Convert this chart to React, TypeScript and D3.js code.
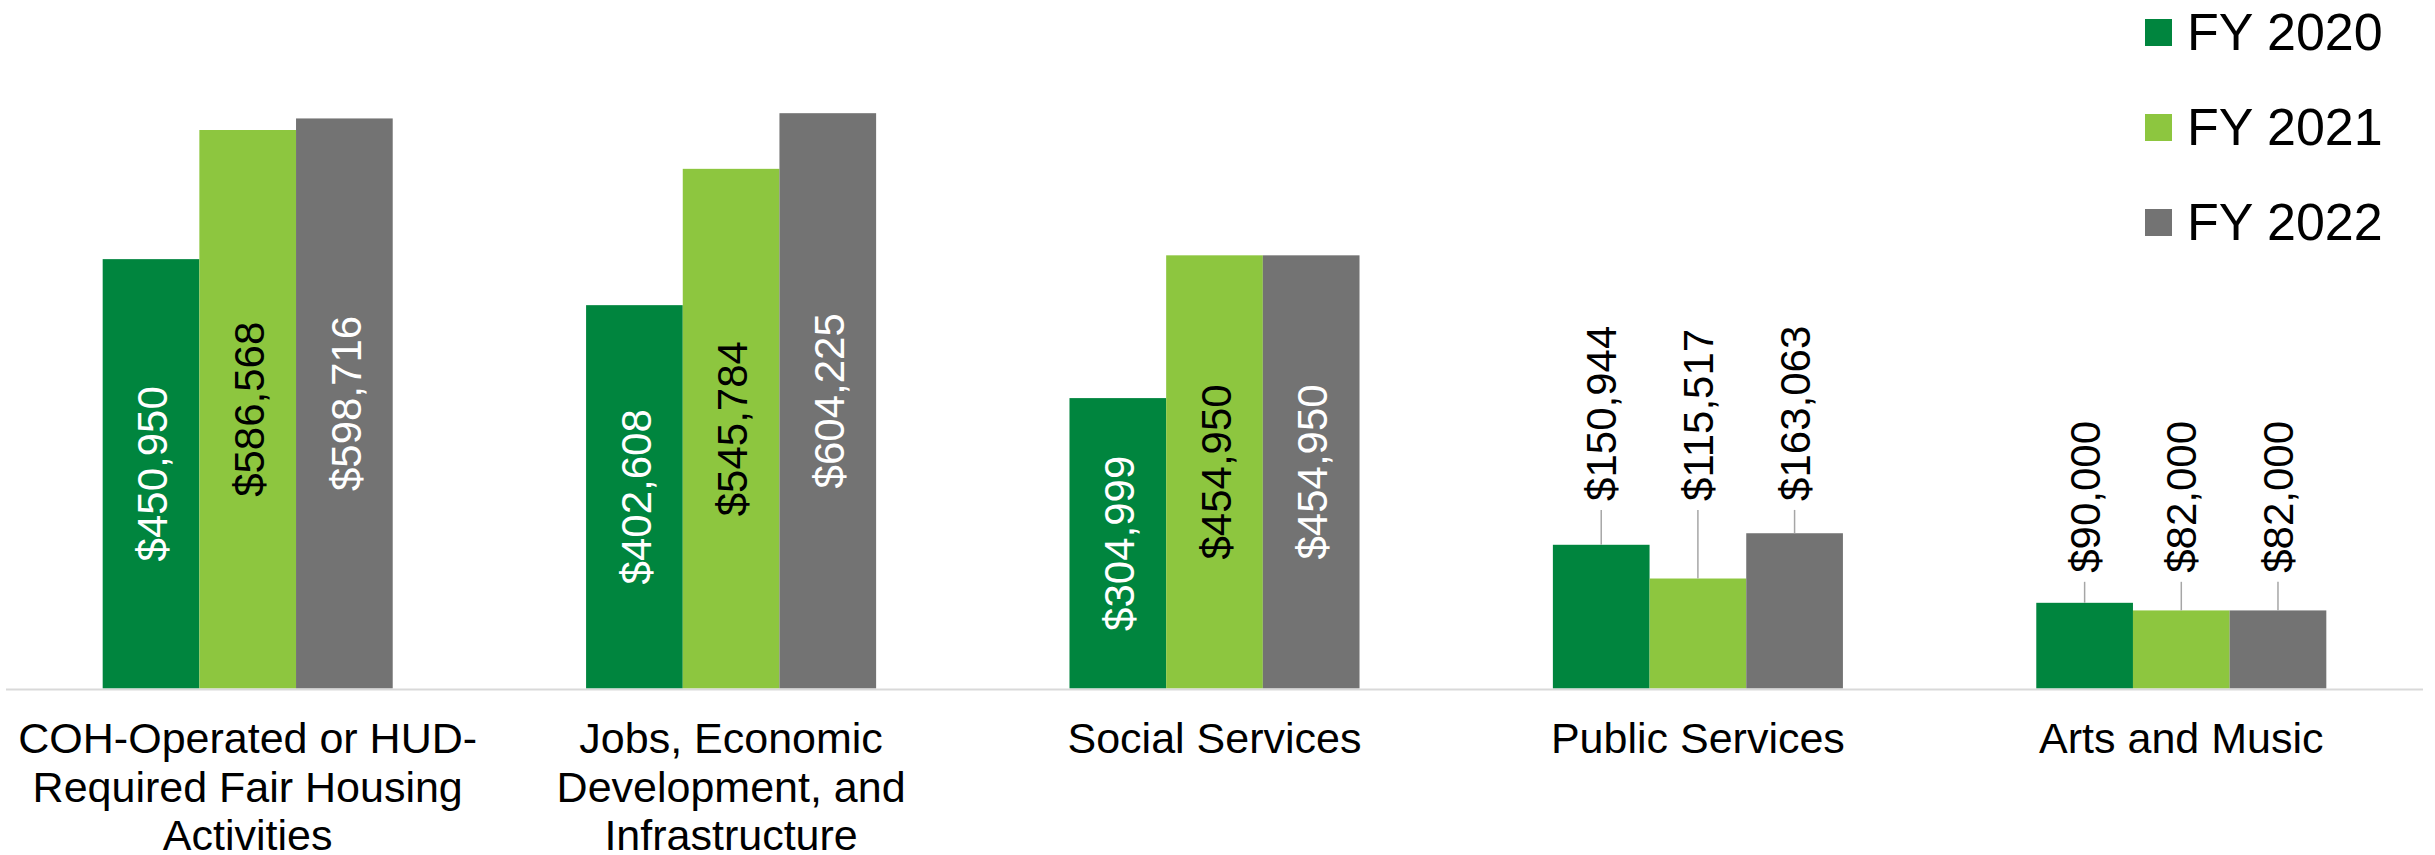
import { useEffect, useRef } from 'react';
import * as d3 from 'd3';

const categoryLines = [
  ['COH-Operated or HUD-', 'Required Fair Housing', 'Activities'],
  ['Jobs, Economic', 'Development, and', 'Infrastructure'],
  ['Social Services'],
  ['Public Services'],
  ['Arts and Music'],
];
const categories = categoryLines.map(l => l.join(' '));

const seriesNames = ['FY 2020', 'FY 2021', 'FY 2022'];
const fy2020 = [450950, 402608, 304999, 150944, 90000];
const fy2021 = [586568, 545784, 454950, 115517, 82000];
const fy2022 = [598716, 604225, 454950, 163063, 82000];

// outside labels are dragged up to this value (Excel custom label position), null = centred in bar
const labelAnchors: (number | null)[] = [null, null, null, 197000, 121500];

const colors = ['#00853e', '#8dc63f', '#737373'];
const insideTextColors = ['#ffffff', '#000000', '#ffffff'];
const FONT = '"Liberation Sans", Arial, sans-serif';

export default function App() {
  const svgRef = useRef<SVGSVGElement>(null);

  useEffect(() => {
    document.body.style.margin = '0';
    const svg = d3.select(svgRef.current);
    svg.selectAll('*').remove();

    const W = 2435, H = 855;
    svg.attr('width', W).attr('height', H).attr('viewBox', `0 0 ${W} ${H}`);

    const values = [fy2020, fy2021, fy2022];

    const x0 = d3.scaleBand<string>().domain(categories).range([6, 2423]).paddingInner(0.4).paddingOuter(0.2);
    const x1 = d3.scaleBand<string>().domain(seriesNames).range([0, x0.bandwidth()]);
    const y = d3.scaleLinear().domain([0, 700000]).range([688.5, 22]);

    const fmt = (v: number) => '$' + d3.format(',')(v);
    const g = svg.append('g');

    // Bars
    values.forEach((series, si) => {
      series.forEach((v, ci) => {
        const bx = x0(categories[ci])! + x1(seriesNames[si])!;
        g.append('rect')
          .attr('x', bx).attr('y', y(v))
          .attr('width', x1.bandwidth()).attr('height', y(0) - y(v))
          .attr('fill', colors[si]);
      });
    });

    // Axis line
    g.append('line')
      .attr('x1', 6).attr('x2', 2423)
      .attr('y1', y(0) + 1).attr('y2', y(0) + 1)
      .attr('stroke', '#d9d9d9').attr('stroke-width', 2);

    // Data labels
    const fs = 42;
    values.forEach((series, si) => {
      series.forEach((v, ci) => {
        const cx = x0(categories[ci])! + x1(seriesNames[si])! + x1.bandwidth() / 2;
        const anchor = labelAnchors[ci];
        if (anchor == null) {
          const cy = (y(v) + y(0)) / 2;
          g.append('text')
            .attr('transform', `translate(${cx + 1},${cy}) rotate(-90)`)
            .attr('text-anchor', 'middle')
            .attr('dy', '0.36em')
            .attr('font-family', FONT).attr('font-size', fs)
            .attr('fill', insideTextColors[si])
            .text(fmt(v));
        } else {
          const ay = y(anchor);
          g.append('line')
            .attr('x1', cx).attr('x2', cx)
            .attr('y1', ay + 9).attr('y2', y(v))
            .attr('stroke', '#a6a6a6').attr('stroke-width', 1.5);
          g.append('text')
            .attr('transform', `translate(${cx},${ay}) rotate(-90)`)
            .attr('text-anchor', 'start')
            .attr('dy', '0.36em')
            .attr('font-family', FONT).attr('font-size', fs)
            .attr('fill', '#000')
            .text(fmt(v));
        }
      });
    });

    // Category labels
    categoryLines.forEach((lines, ci) => {
      const cx = x0(categories[ci])! + x0.bandwidth() / 2;
      const t = g.append('text')
        .attr('text-anchor', 'middle')
        .attr('font-family', FONT).attr('font-size', 43)
        .attr('fill', '#000');
      lines.forEach((line, li) => {
        t.append('tspan').attr('x', cx).attr('y', 753 + li * 48.5).text(line);
      });
    });

    // Legend
    const legend = g.append('g').attr('transform', 'translate(2145,19)');
    seriesNames.forEach((name, si) => {
      legend.append('rect')
        .attr('x', 0).attr('y', si * 95)
        .attr('width', 27).attr('height', 27)
        .attr('fill', colors[si]);
      legend.append('text')
        .attr('x', 42).attr('y', si * 95 + 31)
        .attr('font-family', FONT).attr('font-size', 52)
        .attr('fill', '#000')
        .text(name);
    });
  }, []);

  return <svg ref={svgRef} style={{ display: 'block' }} role="img" aria-label="Funding by category, FY 2020 to FY 2022" />;
}
